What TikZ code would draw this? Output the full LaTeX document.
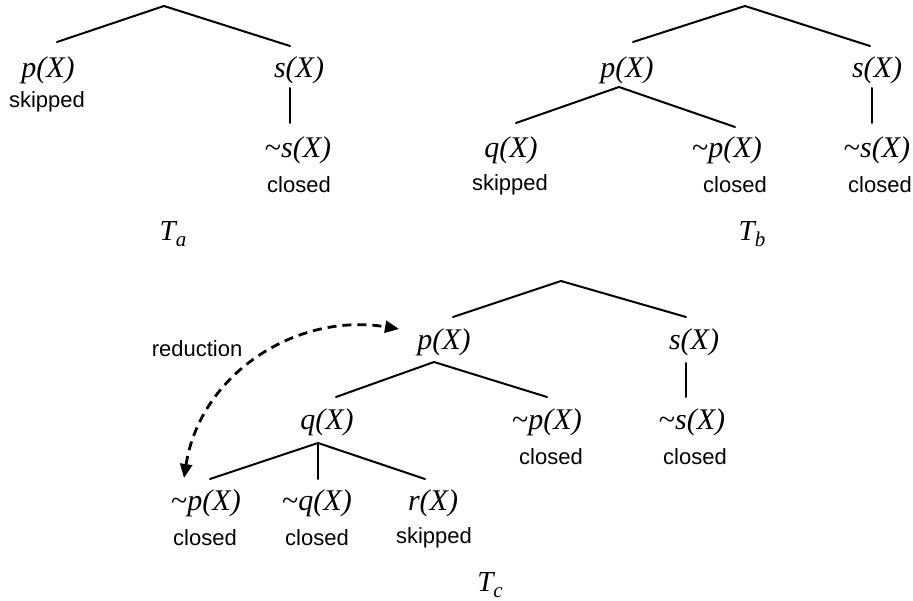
\documentclass[tikz,border=0pt]{standalone}
\usepackage{fontspec}
\setmainfont{Liberation Serif}
\setsansfont{Liberation Sans}
\usetikzlibrary{arrows.meta}
\tikzset{
  formula/.style={font=\fontsize{30}{30}\selectfont\itshape, inner sep=0pt, anchor=center},
  status/.style={font=\sffamily\fontsize{22}{22}\selectfont, inner sep=0pt, anchor=center},
  treename/.style={font=\fontsize{29}{29}\selectfont\itshape, inner sep=0pt, anchor=center},
  edge/.style={line width=2pt, line cap=round},
  reduce/.style={line width=2.8pt, dash pattern=on 9pt off 6pt,
    {Triangle[length=14pt,width=12pt]}-{Triangle[length=14pt,width=12pt]}}
}
\newcommand{\tld}{\textup{\textasciitilde}}
\newcommand{\treesub}[1]{\raisebox{-6pt}{\fontsize{21}{21}\selectfont #1}}
\begin{document}
\begin{tikzpicture}[x=1pt, y=-1pt]
\useasboundingbox (0,0) rectangle (913,601);

% ---------------- tree T_a ----------------
\coordinate (ra) at (164,6);
\coordinate (ra-l) at (57,42);
\coordinate (ra-r) at (290,46);
\node[formula] (pa) at (48,70) {p(X)};
\node[status] (pa-st) at (47,102) {skipped};
\node[formula] (sa) at (299,70) {s(X)};
\coordinate (sa-d) at (290,88);
\coordinate (nsa-u) at (290,123);
\node[formula] (nsa) at (298,150) {\tld s(X)};
\node[status] (nsa-st) at (299,185) {closed};
\node[treename] (ta) at (173,234) {T\treesub{a}};
\draw[edge] (ra-l) -- (ra) -- (ra-r);
\draw[edge] (sa-d) -- (nsa-u);

% ---------------- tree T_b ----------------
\coordinate (rb) at (745,6);
\coordinate (rb-l) at (633,42);
\coordinate (rb-r) at (870,46);
\node[formula] (pb) at (627,70) {p(X)};
\coordinate (pb-d) at (619,87);
\coordinate (pb-l) at (516,123);
\coordinate (pb-r) at (735,127);
\node[formula] (sb) at (877,70) {s(X)};
\coordinate (sb-d) at (872,88);
\coordinate (nsb-u) at (872,123);
\node[formula] (qb) at (511,150) {q(X)};
\node[status] (qb-st) at (510,185) {skipped};
\node[formula] (npb) at (727,150) {\tld p(X)};
\node[status] (npb-st) at (735,185) {closed};
\node[formula] (nsb) at (877,150) {\tld s(X)};
\node[status] (nsb-st) at (880,185) {closed};
\node[treename] (tb) at (752,234) {T\treesub{b}};
\draw[edge] (rb-l) -- (rb) -- (rb-r);
\draw[edge] (pb-l) -- (pb-d) -- (pb-r);
\draw[edge] (sb-d) -- (nsb-u);

% ---------------- tree T_c ----------------
\coordinate (rc) at (561,281);
\coordinate (rc-l) at (453,317);
\coordinate (rc-r) at (686,317);
\node[formula] (pc) at (444,342) {p(X)};
\coordinate (pc-d) at (434,362);
\coordinate (pc-l) at (336,397);
\coordinate (pc-r) at (547,397);
\node[formula] (sc) at (694,342) {s(X)};
\coordinate (sc-d) at (686,363);
\coordinate (nsc-u) at (686,397);
\node[formula] (qc) at (327,422) {q(X)};
\coordinate (qc-d) at (318,443);
\coordinate (qc-l) at (210,479);
\coordinate (qc-m) at (318,479);
\coordinate (qc-r) at (425,479);
\node[formula] (npc) at (547,422) {\tld p(X)};
\node[status] (npc-st) at (551,457) {closed};
\node[formula] (nsc) at (692,422) {\tld s(X)};
\node[status] (nsc-st) at (695,457) {closed};
\node[formula] (npc2) at (206,503) {\tld p(X)};
\node[status] (npc2-st) at (205,538) {closed};
\node[formula] (nqc) at (317,503) {\tld q(X)};
\node[status] (nqc-st) at (317,538) {closed};
\node[formula] (rcx) at (433,503) {r(X)};
\node[status] (rcx-st) at (434,538) {skipped};
\node[treename] (tc) at (490,585) {T\treesub{c}};
\draw[edge] (rc-l) -- (rc) -- (rc-r);
\draw[edge] (pc-l) -- (pc-d) -- (pc-r);
\draw[edge] (sc-d) -- (nsc-u);
\draw[edge] (qc-l) -- (qc-d) -- (qc-r);
\draw[edge] (qc-d) -- (qc-m);

% reduction link between the closed literal and its ancestor
\node[status] (red) at (197,349) {reduction};
\coordinate (red-from) at (184,478);
\coordinate (red-to) at (399,329);
\draw[reduce] (red-from) .. controls (200,375) and (295,312) .. (red-to);
\end{tikzpicture}
\end{document}
